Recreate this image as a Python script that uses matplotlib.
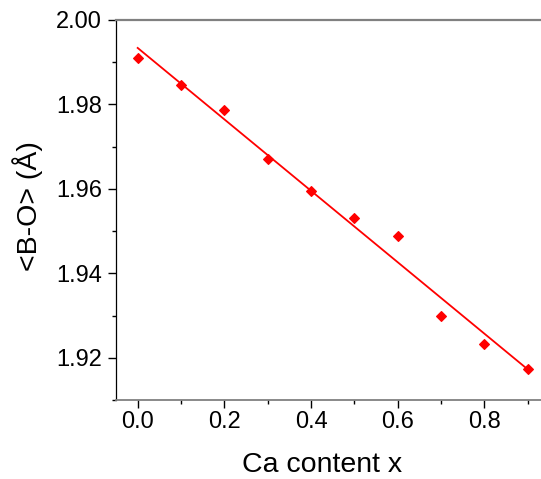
import numpy as np
import matplotlib
matplotlib.use("Agg")
import matplotlib.pyplot as plt
from matplotlib.ticker import MultipleLocator

ca_x = [0.0, 0.1, 0.2, 0.3, 0.4, 0.5, 0.6, 0.7, 0.8, 0.9]
b_o = [1.9910, 1.9845, 1.9786, 1.9671, 1.9595, 1.9531, 1.9488, 1.9298, 1.9233, 1.9174]
x_ticks = [0.0, 0.2, 0.4, 0.6, 0.8]
y_ticks = [1.92, 1.94, 1.96, 1.98, 2.00]

plt.rcParams['font.family'] = ['Liberation Sans', 'DejaVu Sans']

fig = plt.figure(figsize=(5.41, 4.79), dpi=100)
W, H = 541, 479
left_px, right_px, top_px, bot_px = 116, 549.5, 20, 400
ax = fig.add_axes([left_px / W, 1 - bot_px / H, (right_px - left_px) / W, (bot_px - top_px) / H])

ax.plot(ca_x, b_o, linestyle='none', marker='D', markersize=5.5, color='#ff0000', markeredgewidth=0.8)
coef = np.polyfit(ca_x, b_o, 1)
xf = np.array([ca_x[0], ca_x[-1]])
ax.plot(xf, np.polyval(coef, xf), color='#ff0000', linewidth=1.3)

ax.set_xlim(-0.05, 0.95)
ax.set_ylim(1.91, 2.00)
ax.set_xticks(x_ticks)
ax.set_xticklabels([f"{v:.1f}" for v in x_ticks])
ax.set_yticks(y_ticks)
ax.set_yticklabels([f"{v:.2f}" for v in y_ticks])
ax.xaxis.set_minor_locator(MultipleLocator(0.1))
ax.yaxis.set_minor_locator(MultipleLocator(0.01))
ax.tick_params(which='major', direction='out', length=6, width=1, labelsize=17, colors='black')
ax.tick_params(axis='x', which='major', pad=2)
ax.tick_params(axis='y', which='major', pad=4)
ax.tick_params(which='minor', direction='out', length=3, width=1)

ax.spines['right'].set_visible(False)
ax.spines['left'].set_color('black')
ax.spines['left'].set_linewidth(0.9)
ax.spines['top'].set_color('#808080')
ax.spines['top'].set_linewidth(1.6)
ax.spines['bottom'].set_color('#808080')
ax.spines['bottom'].set_linewidth(1.3)

ax.set_xlabel('Ca content x', fontsize=20.5)
ax.set_ylabel('<B-O> (Å)', fontsize=20.5)
ax.xaxis.set_label_coords((322 - left_px) / (right_px - left_px), -(472 - bot_px) / (bot_px - top_px), transform=ax.transAxes)
ax.xaxis.label.set_va('baseline')
ax.yaxis.set_label_coords(-(116 - 28) / (right_px - left_px), (bot_px - 206) / (bot_px - top_px), transform=ax.transAxes)
ax.yaxis.label.set_va('center')

fig.savefig('out.png', dpi=100)
